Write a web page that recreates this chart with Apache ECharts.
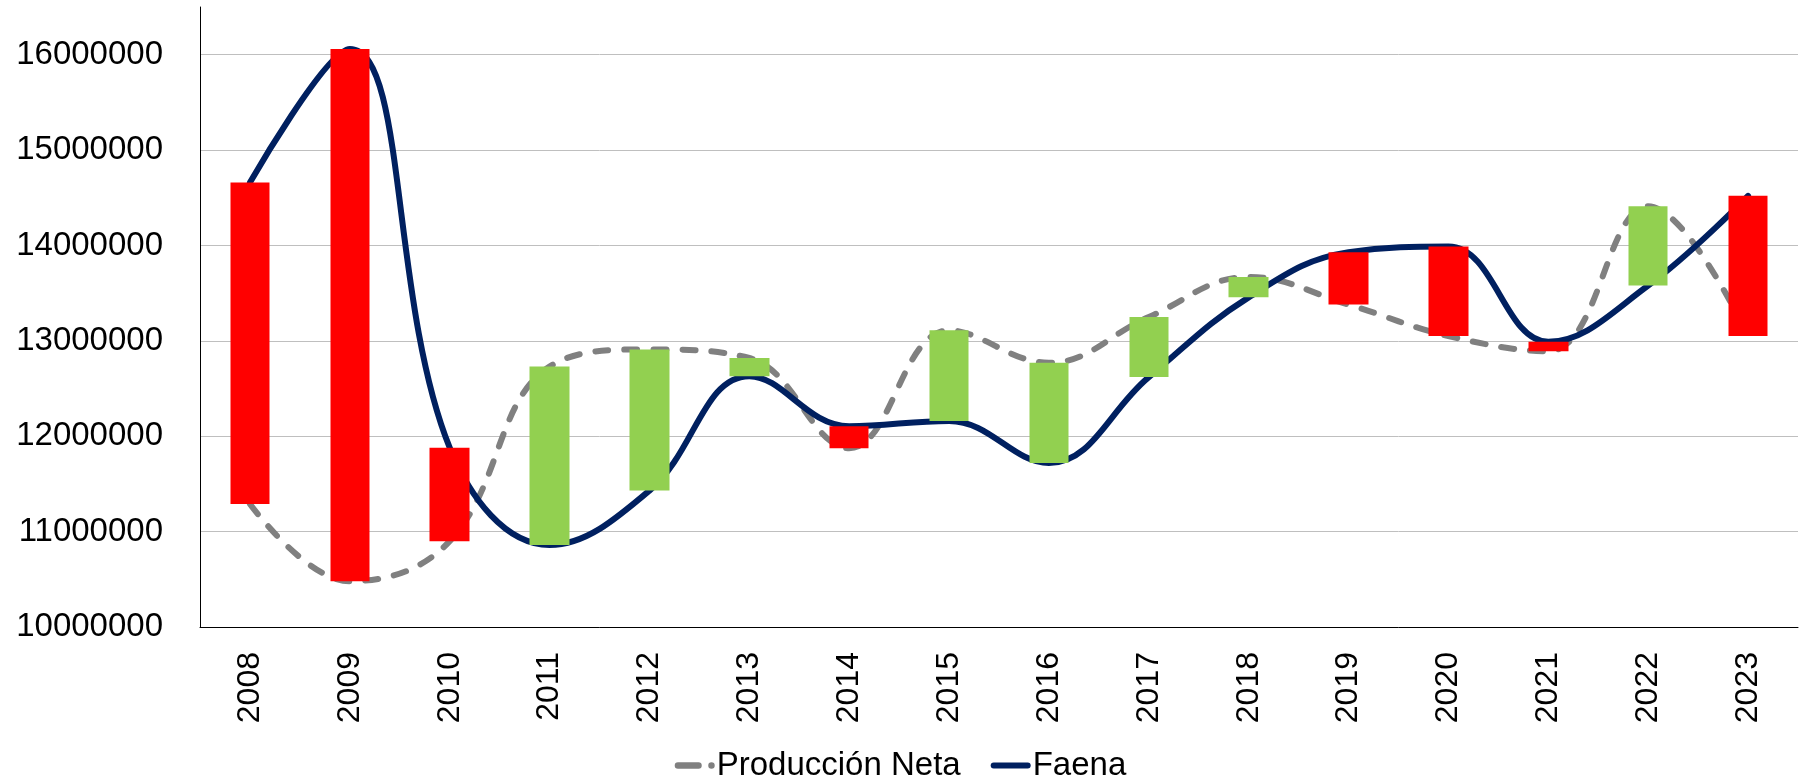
<!DOCTYPE html>
<html>
<head>
<meta charset="utf-8">
<title>Producción Neta vs Faena</title>
<script src="https://cdn.jsdelivr.net/npm/echarts@6/dist/echarts.min.js"></script>
<style>
  html, body { margin: 0; padding: 0; background: #fff; }
  #chart { width: 1801px; height: 779px; }
</style>
</head>
<body>
<div id="chart"></div>
<script>
var years = ['2008', '2009', '2010', '2011', '2012', '2013', '2014', '2015',
             '2016', '2017', '2018', '2019', '2020', '2021', '2022', '2023'];
var produccionNeta = [11290000, 10480000, 10900000, 12730000, 12910000, 12820000, 11875000, 13110000,
                      12770000, 13250000, 13670000, 13380000, 13050000, 12890000, 14410000, 13050000];
var faena = [14660000, 16060000, 11880000, 10860000, 11430000, 12630000, 12105000, 12160000,
             11720000, 12620000, 13456000, 13930000, 13990000, 12990000, 13580000, 14520000];

var fontName = 'Liberation Sans';

// barras arriba/abajo: abre en Producción Neta, cierra en Faena
var updown = years.map(function (y, i) {
    var a = produccionNeta[i], b = faena[i];
    return [a, b, Math.min(a, b), Math.max(a, b)];
});

// iconos de leyenda: trazo + punto para la discontinua, trazo redondeado para la continua
var iconDash = 'path://M3,0 H22 A3,3 0 0 1 22,6 H3 A3,3 0 0 1 3,0 Z M34,0 A3,3 0 0 1 34,6 A3,3 0 0 1 34,0 Z';
var iconSolid = 'path://M3,0 H37 A3,3 0 0 1 37,6 H3 A3,3 0 0 1 3,0 Z';

var chart = echarts.init(document.getElementById('chart'));
var option = {
    animation: false,
    grid: { left: 200, right: 3, top: 7, bottom: 152, containLabel: false },
    legend: {
        data: [
            { name: 'Producción Neta', icon: iconDash, itemStyle: { color: '#808080' } },
            { name: 'Faena', icon: iconSolid, itemStyle: { color: '#002060' } }
        ],
        left: 'center',
        top: 744,
        itemWidth: 40,
        itemHeight: 7,
        itemGap: 30,
        textStyle: { fontFamily: fontName, fontSize: 33, color: '#000', padding: [0, 0, 0, -3] }
    },
    xAxis: {
        type: 'category',
        data: years,
        boundaryGap: true,
        axisLine: { lineStyle: { color: '#000', width: 1 } },
        axisTick: { show: false },
        axisLabel: { rotate: 90, margin: 25, fontFamily: fontName, fontSize: 32, color: '#000' }
    },
    yAxis: {
        type: 'value',
        min: 10000000,
        max: 16500000,
        interval: 1000000,
        axisLine: { show: true, lineStyle: { color: '#000', width: 1 } },
        axisTick: { show: false },
        splitLine: { showMaxLine: false, lineStyle: { color: '#bfbfbf', width: 1 } },
        axisLabel: {
            margin: 37,
            fontFamily: fontName,
            fontSize: 33,
            color: '#000',
            showMaxLabel: false,
            formatter: function (v) { return v % 1000000 === 0 ? String(v) : ''; }
        }
    },
    series: [
        {
            name: 'Producción Neta',
            type: 'line',
            data: produccionNeta,
            smooth: 0.4,
            symbol: 'none',
            z: 2,
            lineStyle: { color: '#808080', width: 6, type: [13, 16], cap: 'round' },
            itemStyle: { color: '#808080' }
        },
        {
            name: 'Faena',
            type: 'line',
            data: faena,
            smooth: 0.4,
            symbol: 'none',
            z: 2,
            lineStyle: { color: '#002060', width: 6, cap: 'round' },
            itemStyle: { color: '#002060' }
        },
        {
            name: 'updown',
            type: 'candlestick',
            data: updown,
            barWidth: 40,
            z: 3,
            itemStyle: {
                color: '#ff0000',
                color0: '#92d050',
                borderColor: '#ff0000',
                borderColor0: '#92d050',
                borderWidth: 0
            }
        }
    ]
};
chart.setOption(option);
</script>
</body>
</html>
